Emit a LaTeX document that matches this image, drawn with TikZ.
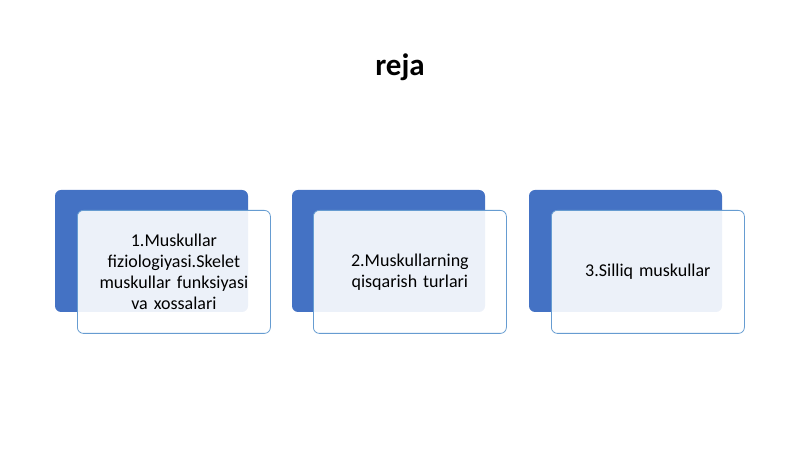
\documentclass[tikz,border=0pt]{standalone}
\usepackage{fontspec}
\setmainfont{Carlito}
\begin{document}
\begin{tikzpicture}[x=1pt,y=1pt,
 back/.style={fill=blue!55!cyan!60!black!80, draw=none, rounded corners=6pt},
 front/.style={fill=white, fill opacity=0.9, text opacity=1, draw=blue!50!cyan!70!black!60, line width=0.8pt, rounded corners=6pt, minimum width=193pt, minimum height=123pt, text width=160pt, align=center, font=\fontsize{18}{21}\selectfont, anchor=north west}]
\useasboundingbox (0,0) rectangle (800,449);
\definecolor{bk}{HTML}{4472C4}
\node[font=\bfseries\fontsize{31}{36}\selectfont] (title) at (400,382) {reja};
\foreach \x/\n in {55/a,292/b,529/c}{
 \fill[bk, rounded corners=6pt] (\x,259) rectangle ++(193,-122);
}
\node[front] (a) at (77,239) {1.Muskullar fiziologiyasi.Skelet muskullar funksiyasi va xossalari};
\node[front] (b) at (313,239) {2.Muskullarning qisqarish turlari};
\node[front] (c) at (551,239) {3.Silliq muskullar};
\end{tikzpicture}
\end{document}
